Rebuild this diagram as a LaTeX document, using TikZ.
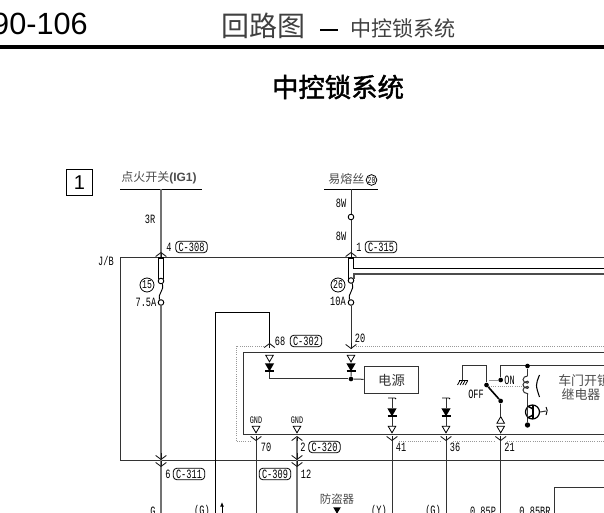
\documentclass[tikz,border=0pt]{standalone}
\usepackage{fontspec}
\setmainfont{Liberation Sans}
\newfontfamily\cjk{Noto Sans CJK SC}
\newfontfamily\cjkbold[FakeBold=1.5]{Noto Sans CJK SC}
\newfontfamily\lblfont[FakeStretch=0.68]{Liberation Mono}
\usetikzlibrary{arrows.meta,shapes.geometric}
\tikzset{
  wire/.style={line width=0.75pt,black!80},
  thinwire/.style={line width=0.65pt,black},
  jbwire/.style={line width=1.4pt,black!55},
  chev/.style={line width=0.65pt,black!90,-{Straight Barb[length=3pt,width=8pt,line width=0.65pt]}},
  lbl/.style={font=\lblfont\fontsize{9.5}{9.5}\selectfont,inner sep=0pt,black},
  zh/.style={font=\cjk\fontsize{9}{9}\selectfont,inner sep=0pt,black!70},
  conn/.style={draw,line width=0.6pt,rounded corners=2.5pt,inner sep=0pt,minimum width=23.5pt,minimum height=8.5pt,font=\lblfont\fontsize{9.5}{9.5}\selectfont},
  numcirc/.style={draw,circle,line width=0.6pt,inner sep=0pt,minimum size=10.5pt,font=\lblfont\fontsize{9}{9}\selectfont},
  hole/.style={draw,circle,fill=white,line width=0.7pt,inner sep=0pt,minimum size=4.2pt},
  dot/.style={circle,fill=black,inner sep=0pt,minimum size=3.5pt},
  pin/.style={draw,regular polygon,regular polygon sides=3,shape border rotate=180,line width=0.6pt,fill=white,inner sep=0pt,minimum size=6.5pt},
  pinup/.style={pin,shape border rotate=0},
  diode/.style={regular polygon,regular polygon sides=3,fill=black,inner sep=0pt,minimum size=8pt,shape border rotate=180},
}
\begin{document}
\begin{tikzpicture}[x=0.75pt,y=-0.75pt]
  \useasboundingbox (0,0) rectangle (604,513);
  \clip (0,0) rectangle (604,513);

  % header
  \node[anchor=base east,inner sep=0pt,font=\fontsize{23}{23}\selectfont] (page) at (88,35) {90-106};
  \node[anchor=base west,inner sep=0pt,font=\cjk\fontsize{21}{21}\selectfont,black!75] (head) at (221,37) {回路图};
  \node[anchor=base west,inner sep=0pt,font=\cjk\fontsize{15.8}{15.8}\selectfont,black!75] (subhead) at (350,37) {中控锁系统};
  \coordinate (rulea) at (0,47);
  \coordinate (ruleb) at (604,47);
  \coordinate (dasha) at (320,30);
  \coordinate (dashb) at (338,30);
  \draw[line width=2.4pt] (rulea) -- (ruleb);
  \draw[line width=2.2pt] (dasha) -- (dashb);
  \node[font=\cjkbold\fontsize{19.8}{19.8}\selectfont,inner sep=0pt] (title) at (338,87) {中控锁系统};
  \node[draw,line width=0.7pt,minimum size=20pt,inner sep=0pt,font=\fontsize{15}{15}\selectfont] (sheet) at (79.5,182.5) {1};

  % J/B frame
  \coordinate (jbr) at (604,258);
  \coordinate (jbtl) at (120,258);
  \coordinate (jbbl) at (120,461);
  \coordinate (jbbr) at (604,461);
  \draw[wire] (jbr) -- (jbtl) -- (jbbl) -- (jbbr);
  \node[lbl] (jb) at (106,261) {J/B};

  % ignition feed
  \node[zh,anchor=base west] (ig) at (121,182) {点火开关\textbf{\fontspec{Liberation Sans}(IG1)}};
  \coordinate (igl) at (120,189.5);
  \coordinate (igr) at (202,189.5);
  \coordinate (ig0) at (161,189.5);
  \coordinate (ig1) at (161,258);
  \coordinate (ig2) at (161,513);
  \draw[thinwire] (igl) -- (igr);
  \node[lbl] (w3r) at (150,219) {3R};
  \node[lbl] (p4) at (169,247) {4};
  \node[conn] (c308) at (191.5,247) {C-308};
  \node[numcirc] (f15) at (147,285) {15};
  \node[lbl] (a75) at (146,302) {7.5A};
  \node[hole] (f15a) at (161,281) {};
  \node[hole] (f15b) at (161,302.5) {};
  \coordinate (ig3) at (161,252);
  \draw[jbwire] (ig0) -- (ig1);
  \draw[chev] (ig1) -- (ig3);
  \draw[jbwire] (f15b) -- (ig2);
  \draw[line width=0.9pt] (158.4,279) |- (163.6,258) -- (163.6,279);
  \draw[line width=0.7pt] (f15a) .. controls (165,289) and (157,295) .. (f15b);

  % pin 6
  \coordinate (p6a) at (161,453);
  \coordinate (p6b) at (161,461);
  \draw[chev] (p6a) -- (161,460);
  \draw[chev] (p6b) -- (161,467);
  \node[lbl] (p6) at (168,474) {6};
  \node[conn] (c311) at (189,474) {C-311};

  % fusible link feed
  \node[zh,anchor=base west] (link) at (328,184) {易熔丝};
  \node[numcirc,minimum size=8pt,font=\lblfont\fontsize{7}{7}\selectfont] (f20) at (371.5,180) {20};
  \coordinate (linkl) at (324,189.5);
  \coordinate (linkr) at (378,189.5);
  \coordinate (link0) at (351,189.5);
  \coordinate (link1) at (351,258);
  \coordinate (link3) at (351,252);
  \draw[thinwire] (linkl) -- (linkr);
  \node[hole] (h8w) at (351,217) {};
  \node[lbl] (w8a) at (341,203) {8W};
  \node[lbl] (w8b) at (341,236) {8W};
  \node[lbl] (p1) at (359,247) {1};
  \node[conn] (c315) at (381,247) {C-315};
  \draw[wire] (link0) -- (h8w) -- (link1);
  \draw[chev] (link1) -- (link3);
  \node[numcirc] (f26) at (338,285) {26};
  \node[lbl] (a10) at (338,301) {10A};
  \node[hole] (f26a) at (351,280.5) {};
  \node[hole] (f26b) at (351,302.5) {};
  \draw[line width=0.9pt] (348.4,279) |- (353.7,258) -- (353.7,268.5) -- (604,268.5);
  \draw[line width=1.2pt,black!70] (604,274) -- (353.7,274) -- (353.7,279);
  \draw[line width=0.7pt] (f26a) .. controls (355,289) and (347,295) .. (f26b);
  \coordinate (p20) at (351,349);
  \draw[wire] (f26b) -- (p20);
  \draw[chev] (351,343) -- (351,349);
  \node[lbl] (n20) at (360,338) {20};

  % ECU frame
  \draw[black!40,densely dotted,line width=0.6pt] (266,346) -- (236,346) -- (236,441) -- (251,441);
  \draw[black!40,densely dotted,line width=0.6pt] (356,346) -- (604,346);
  \draw[black!40,densely dotted,line width=0.6pt] (399,441) -- (441,441) (453,441) -- (495,441) (507,441) -- (604,441);
  \draw[wire] (604,353) -- (243,353) -- (243,434.5) -- (604,434.5);

  % loop to pin 68
  \coordinate (l0) at (215.5,513);
  \coordinate (l1) at (215.5,312);
  \coordinate (l2) at (269.5,312);
  \coordinate (l3) at (269.5,344);
  \draw[thinwire] (l0) -- (l1) -- (l2) -- (l3);
  \draw[chev] (269.5,348) -- (269.5,343);
  \node[lbl] (p68) at (280,341) {68};
  \node[conn] (c302) at (306,341) {C-302};

  % inputs to power block
  \node[pin] (ia) at (269.5,357.5) {};
  \node[pin] (ib) at (351,357.5) {};
  \node[diode] (da) at (269.5,366) {};
  \node[diode] (db) at (351,366) {};
  \coordinate (ja) at (269.5,379);
  \node[dot] (jb2) at (351,379) {};
  \node[draw,line width=0.8pt,minimum width=41pt,minimum height=20pt,inner sep=0pt,font=\cjk\fontsize{10}{10}\selectfont,black!80] (psu) at (391.5,380) {电源};
  \draw[wire] (ia) -- (da) -- (ja) -- (jb2);
  \draw[wire] (ib) -- (db) -- (jb2) -- (psu);
  \draw[line width=0.8pt] (265,371) -- (274,371) (346.5,371) -- (355.5,371);

  % ground pins
  \foreach \name/\xpos in {gnda/256,gndb/297}{
    \node[lbl,font=\lblfont\fontsize{7.5}{7.5}\selectfont] (\name) at (\xpos,420) {GND};
  }
  \node[pin] (pg1) at (256,428.5) {};
  \node[pin] (pg2) at (297,428.5) {};
  \coordinate (g70) at (256,513);
  \coordinate (g70t) at (256,438);
  \draw[wire] (g70t) -- (g70);
  \draw[chev] (256,436) -- (256,441);
  \node[lbl] (p70) at (266,447) {70};
  \coordinate (g12) at (297,513);
  \coordinate (g2) at (297,438);
  \draw[jbwire] (g2) -- (g12);
  \draw[chev] (297,441) -- (297,436);
  \draw[chev] (297,453) -- (297,460);
  \draw[chev] (297,461) -- (297,467);
  \node[lbl] (p2) at (303,447) {2};
  \node[conn] (c320) at (324.5,447) {C-320};
  \node[conn] (c309) at (275,474) {C-309};
  \node[lbl] (p12) at (306,474) {12};

  % outputs of power block
  \foreach \name/\xpos/\num in {oa/392/41,ob/446/36}{
    \coordinate (\name t) at (\xpos,398);
    \node[diode] (\name d) at (\xpos,411) {};
    \node[pin] (\name p) at (\xpos,428.5) {};
    \coordinate (\name w) at (\xpos,513);
    \draw[wire] (\name t) -- (\name d) -- (\name p);
    \draw[line width=0.7pt] (\xpos-4,398) -- (\xpos+3,398) -- (\xpos+4,399);
    \draw[line width=0.8pt] (\xpos-4.5,416) -- (\xpos+4.5,416);
    \draw[wire] (\xpos,438) -- (\name w);
    \draw[chev] (\xpos,436) -- (\xpos,441);
    \node[lbl] (\name n) at (\xpos+9,447) {\num};
  }

  % switch
  \coordinate (gs) at (462.5,380);
  \coordinate (s1) at (462.5,366);
  \node[dot] (sw) at (486.5,385) {};
  \node[dot] (swb) at (500.7,401) {};
  \node[dot] (son) at (500.7,380) {};
  \coordinate (srail) at (500.7,366);
  \coordinate (srailr) at (604,366);
  \node[pinup] (o21a) at (500.7,421) {};
  \node[pin] (o21b) at (500.7,428.5) {};
  \coordinate (o21w) at (500.7,513);
  \draw[wire] (gs) -- (s1) -| (sw);
  \draw[line width=1.2pt] (sw) -- (swb);
  \draw[wire] (swb) -- (o21a);
  \draw[wire] (son) -- (srail) -- (srailr);
  \draw[line width=0.8pt] (459,380.5) -- (468,380.5);
  \foreach \i in {0,1,2,3}{
    \draw[line width=0.6pt] (457.5+\i*2.6,385) -- (460+\i*2.6,380.5);
  }
  \draw[black!40,line width=0.5pt] (489,380) -- (son);
  \draw[black!40,densely dotted,line width=0.6pt] (489,386.5) -- (524,386.5);
  \node[lbl] (on) at (509.5,380) {ON};
  \node[lbl] (off) at (476,394) {OFF};
  \draw[wire] (500.7,438) -- (o21w);
  \draw[chev] (500.7,436) -- (500.7,441);
  \node[lbl] (p21) at (509.5,447) {21};

  % relay
  \node[dot] (ra) at (527.5,366) {};
  \coordinate (rb) at (527.5,376);
  \coordinate (rc) at (527.5,395);
  \node[draw,circle,line width=0.9pt,minimum size=10.5pt,inner sep=0pt] (rt) at (532.5,412) {};
  \node[dot,minimum size=4pt] (re) at (527.5,425) {};
  \draw[wire] (ra) -- (rb);
  \draw[wire] (rb) arc (-90:-270:4.5 and 3.6) arc (90:-90:1 and 1) arc (-90:-270:4.5 and 3.6) arc (90:-90:1 and 1) arc (-90:-270:4.5 and 3.6) -- (rc);
  \draw[wire] (rc) -- (re);
  \draw[line width=1.1pt] (527.5,406) -- (533,409) (533,415) -- (527.5,418);
  \draw[line width=1.1pt] (533,405) -- (533,419);
  \draw[wire] (rt.east) -- (546,411);
  \draw[line width=0.7pt] (546,407) .. controls (547.5,410) .. (546,415);
  \draw[line width=0.8pt] (539.5,375) .. controls (535.5,385) .. (539.5,397);
  \node[zh,font=\cjk\fontsize{9.7}{9.7}\selectfont,anchor=base west] (rl1) at (558,386) {车门开锁};
  \node[zh,font=\cjk\fontsize{9.7}{9.7}\selectfont] (rl2) at (581,395) {继电器};

  % bottom labels
  \node[lbl] (lg) at (153,511) {G};
  \node[lbl] (lgb) at (202,511) {(G)};
  \coordinate (ar0) at (222,513);
  \coordinate (ar1) at (222,502);
  \draw[line width=0.7pt,-{Latex[length=3.5pt,width=3pt]}] (ar0) -- (ar1);
  \node[zh,font=\cjk\fontsize{8.6}{8.6}\selectfont] (alarm) at (337,499) {防盗器};
  \node[diode,minimum size=6.5pt] (alarmd) at (337,509.5) {};
  \node[lbl] (ly) at (379,511) {(Y)};
  \node[lbl] (lgc) at (433,511) {(G)};
  \node[lbl] (lp) at (483,511) {0.85P};
  \node[lbl] (lbr) at (535,511) {0.85BR};
  \coordinate (bxa) at (554,513);
  \coordinate (bxb) at (554,488);
  \coordinate (bxc) at (604,488);
  \draw[wire] (bxa) -- (bxb) -- (bxc);
\end{tikzpicture}
\end{document}
